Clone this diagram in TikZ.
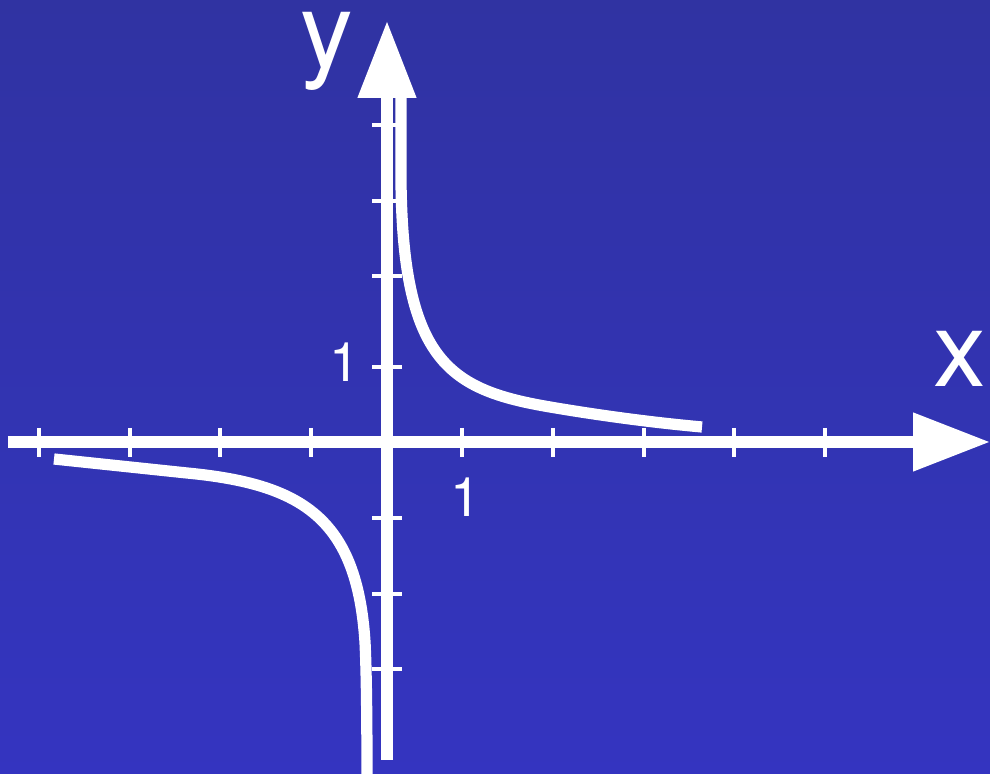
\documentclass[tikz,border=0pt]{standalone}
\usepackage{fontspec}
\setmainfont{TeX Gyre Heros}
\newfontfamily\labelfont{TeX Gyre Heros}
\usetikzlibrary{arrows.meta}
\definecolor{bgtop}{RGB}{48,51,162}
\definecolor{bgbottom}{RGB}{52,52,192}

\begin{document}
\begin{tikzpicture}[
    axisline/.style={white, line width=3.2pt, -{Triangle[length=7.7mm, width=5.6mm]}},
    tickmark/.style={white, line width=1.4pt},
    graphline/.style={white, line width=3.2pt},
    axislabel/.style={text=white, font=\labelfont\fontsize{30}{36}\selectfont, inner sep=0pt, anchor=base},
    numlabel/.style={text=white, font=\labelfont\fontsize{15.5}{18}\selectfont, inner sep=0pt, anchor=base}
]

% ---- Background ----
\shade[top color=bgtop, bottom color=bgbottom] (-3.87,-3.32) rectangle (6.03,4.42);
\useasboundingbox (-3.87,-3.32) rectangle (6.03,4.42);

% ---- Hyperbola branches ----
\draw[graphline] (0.14,3.47) -- (0.14,2.6)
    .. controls (0.16,0.8) and (0.63,0.52) .. (1.63,0.35)
    .. controls (2.13,0.265) and (2.65,0.195) .. (3.15,0.15);
\draw[graphline] (-3.33,-0.17) -- (-2.0,-0.31)
    .. controls (-0.85,-0.42) and (-0.3,-0.76) .. (-0.22,-2.0)
    .. controls (-0.205,-2.3) and (-0.20,-2.8) .. (-0.20,-3.40);

% ---- Axes ----
\coordinate (xfrom) at (-3.79,0);
\coordinate (xto) at (6.03,0);
\coordinate (yfrom) at (0,-3.18);
\coordinate (yto) at (0,4.21);
\draw[axisline] (xfrom) -- (xto);
\draw[axisline] (yfrom) -- (yto);

% ---- Ticks ----
\foreach \t in {-3.48,-2.57,-1.67,-0.76,0.75,1.66,2.57,3.47,4.38}
    \draw[tickmark] (\t,0.14) -- (\t,-0.15);
\foreach \t in {3.17,2.41,1.66,0.75,-0.76,-1.52,-2.27}
    \draw[tickmark] (-0.15,\t) -- (0.15,\t);

% ---- Labels ----
\node[axislabel] (ylabel) at (-0.60,3.74) {y};
\node[axislabel] (xlabel) at (5.73,0.55) {x};
\node[numlabel] (yone) at (-0.42,0.60) {1};
\node[numlabel] (xone) at (0.79,-0.75) {1};

\end{tikzpicture}
\end{document}
